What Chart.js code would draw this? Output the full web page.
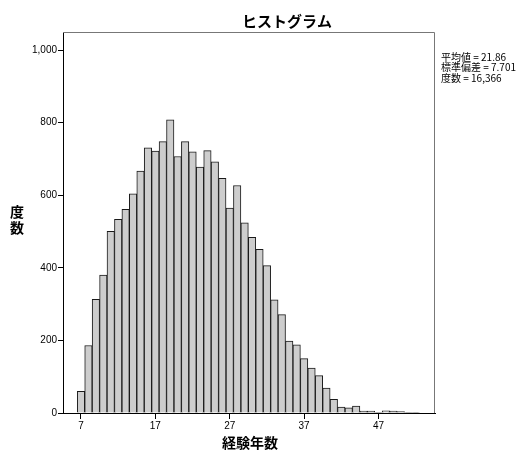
<!DOCTYPE html>
<html>
<head>
<meta charset="utf-8">
<script src="https://cdn.jsdelivr.net/npm/chart.js@4.4.1/dist/chart.umd.min.js"></script>
<style>
  html, body { margin: 0; padding: 0; background: #fff; }
  #wrap { width: 517px; height: 454px; }
</style>
</head>
<body>
<div id="wrap"><canvas id="hist" width="517" height="454"></canvas></div>
<script>
// 経験年数のヒストグラム (SPSS風)
const years = [7, 8, 9, 10, 11, 12, 13, 14, 15, 16, 17, 18, 19, 20, 21, 22, 23, 24, 25, 26,
               27, 28, 29, 30, 31, 32, 33, 34, 35, 36, 37, 38, 39, 40, 41, 42, 43, 44, 45, 46,
               47, 48, 49, 50, 51, 52];
const counts = [60, 186, 313, 380, 501, 534, 561, 604, 667, 731, 722, 748, 808, 707, 748, 720, 678, 723, 692, 647,
                565, 627, 524, 484, 451, 406, 312, 271, 198, 188, 150, 124, 103, 69, 38, 16, 14, 19, 5, 5,
                1, 6, 5, 4, 2, 2];
const xTicks = [7, 17, 27, 37, 47];
const statLines = ['平均値 = 21.86', '標準偏差 = 7.701', '度数 = 16,366'];

const jp = "'Noto Sans CJK JP', sans-serif";
const num = "'Liberation Sans', Arial, sans-serif";

// 枠・タイトル・統計量の描画
const decor = {
    id: 'decor',
    afterDraw(chart) {
        const { ctx, chartArea: a } = chart;
        ctx.save();
        // 上と右の枠線
        ctx.strokeStyle = '#777';
        ctx.lineWidth = 1;
        ctx.beginPath();
        ctx.moveTo(a.left, a.top + 0.5);
        ctx.lineTo(a.right - 0.5, a.top + 0.5);
        ctx.lineTo(a.right - 0.5, a.bottom);
        ctx.stroke();

        ctx.fillStyle = '#000';
        ctx.textAlign = 'center';
        ctx.textBaseline = 'middle';
        ctx.font = 'bold 15px ' + jp;
        ctx.fillText('ヒストグラム', 287, 21);

        ctx.font = 'bold 14px ' + jp;
        ctx.fillText('経験年数', 250, 443);

        // 縦書きの軸ラベル
        ctx.fillText('度', 17, 212);
        ctx.fillText('数', 17, 228);

        ctx.textAlign = 'left';
        ctx.font = '10px ' + jp;
        statLines.forEach((t, i) => ctx.fillText(t, 441, 57 + i * 10.5));
        ctx.restore();
    }
};

new Chart(document.getElementById('hist'), {
    type: 'bar',
    data: {
        datasets: [{
            data: years.map((y, i) => ({ x: y, y: counts[i] })),
            backgroundColor: '#cdcdcd',
            borderColor: '#1a1a1a',
            borderWidth: 1,
            barPercentage: 1,
            categoryPercentage: 1
        }]
    },
    options: {
        responsive: false,
        animation: false,
        layout: { padding: { left: 0, top: 32, right: 82, bottom: 0 } },
        plugins: { legend: { display: false }, tooltip: { enabled: false } },
        scales: {
            x: {
                type: 'linear',
                min: 4.58,
                max: 54.6,
                offset: false,
                afterBuildTicks: s => { s.ticks = xTicks.map(v => ({ value: v })); },
                afterFit: s => { s.height = 41; },
                ticks: { color: '#000', font: { family: num, size: 10 }, padding: 1, maxRotation: 0, autoSkip: false },
                grid: { drawOnChartArea: false, offset: false, color: '#000', tickLength: 6 },
                border: { color: '#000' }
            },
            y: {
                min: 0,
                max: 1050,
                afterFit: s => { s.width = 63; },
                ticks: {
                    stepSize: 200,
                    includeBounds: false,
                    color: '#000',
                    font: { family: num, size: 10 },
                    padding: 1,
                    callback: v => v.toLocaleString('en-US')
                },
                grid: { drawOnChartArea: false, color: '#000', tickLength: 5 },
                border: { color: '#000' }
            }
        }
    },
    plugins: [decor]
});
</script>
</body>
</html>
